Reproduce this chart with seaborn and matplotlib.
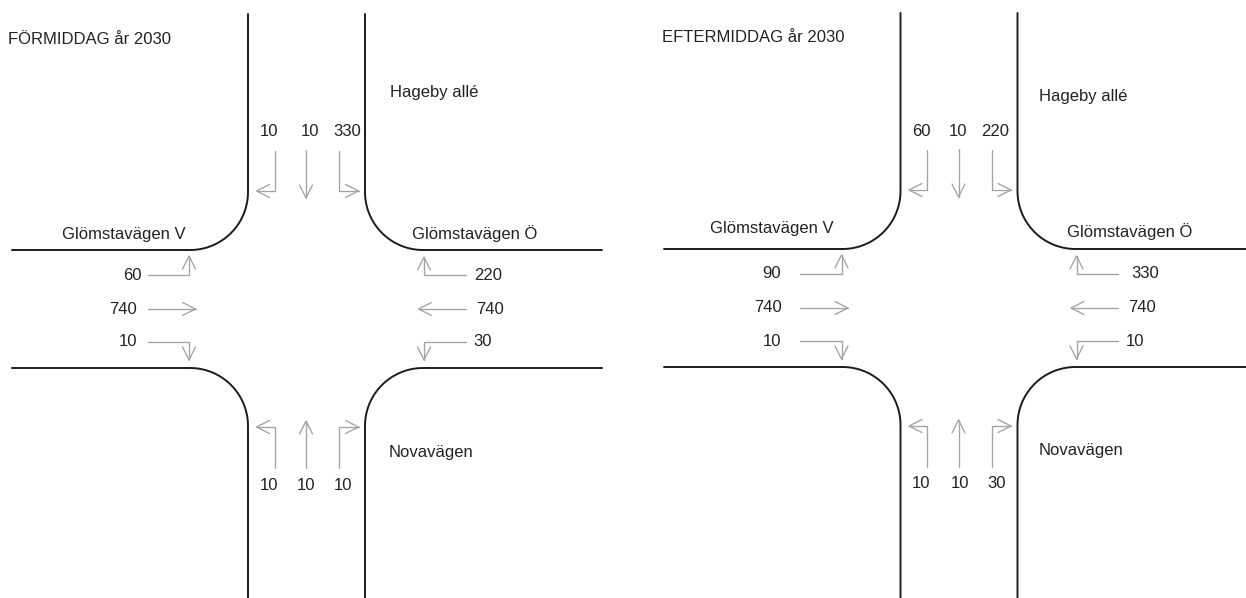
import numpy as np
import pandas as pd
import matplotlib
matplotlib.use("Agg")
import matplotlib.pyplot as plt
import seaborn as sns

# Trafikflöden, ordning: vänster, rakt, höger sett uppifrån/nerifrån i bilden
titles = ["FÖRMIDDAG år 2030", "EFTERMIDDAG år 2030"]
north_flows = [[10, 10, 330], [60, 10, 220]]
south_flows = [[10, 10, 10], [10, 10, 30]]
# ordning: övre, mellersta, nedre körfält
west_flows = [[60, 740, 10], [90, 740, 10]]
east_flows = [[220, 740, 30], [330, 740, 10]]

road_north = "Hageby allé"
road_south = "Novavägen"
road_west = "Glömstavägen V"
road_east = "Glömstavägen Ö"

# Layout i pixlar
centers = [(306.5, 309), (959, 308)]
kerb_dx, kerb_dy, radius = 58.5, 59, 58
road_left = [12, 664]
road_right = [602, 1253]
road_top = [14, 13]
lane_x = [-32, -0.5, 32.5]
lane_y = [-34, 0, 33]

north_label_x = [[269, 310, 347], [921, 958, 995]]
south_label_x = [[269, 306, 343], [921, 960, 997]]
north_label_y = [132, 131]
south_label_y = [486, 484]
west_label_x = [[132, 123, 128], [772, 768, 772]]
east_label_x = [[488, 490, 483], [1145, 1142, 1135]]
title_pos = [(8, 39), (662, 38)]
north_name_pos = [(390, 92), (1039, 96)]
south_name_pos = [(389, 452), (1039, 451)]
west_name_pos = [(62, 234), (710, 229)]
east_name_pos = [(412, 234), (1067, 232)]


def arc(cx, cy, start, stop):
    t = np.radians(np.linspace(start, stop, 40))
    return list(cx + radius * np.cos(t)), list(cy + radius * np.sin(t))


def kerb_strokes(i):
    cx, cy = centers[i]
    xl, xr = cx - kerb_dx, cx + kerb_dx
    yt, yb = cy - kerb_dy, cy + kerb_dy
    strokes = []
    # y-axeln är vänd, så vinklarna räknas medurs i bilden
    ax_, ay_ = arc(xl - radius, yt - radius, 0, 90)
    strokes.append(([xl] + ax_ + [road_left[i]], [road_top[i]] + ay_ + [yt]))
    ax_, ay_ = arc(xr + radius, yt - radius, 180, 90)
    strokes.append(([xr] + ax_ + [road_right[i]], [road_top[i]] + ay_ + [yt]))
    ax_, ay_ = arc(xl - radius, yb + radius, 0, -90)
    strokes.append(([xl] + ax_ + [road_left[i]], [598] + ay_ + [yb]))
    ax_, ay_ = arc(xr + radius, yb + radius, 180, 270)
    strokes.append(([xr] + ax_ + [road_right[i]], [598] + ay_ + [yb]))
    return strokes


def arrow_strokes(points, head=13, half=6.5):
    """Polylinje med öppen pilspets i sista punkten."""
    xs, ys = zip(*points)
    dx, dy = xs[-1] - xs[-2], ys[-1] - ys[-2]
    n = np.hypot(dx, dy)
    dx, dy = dx / n, dy / n
    bx, by = xs[-1] - head * dx, ys[-1] - head * dy
    wing = ([bx - half * dy, xs[-1], bx + half * dy],
            [by + half * dx, ys[-1], by - half * dx])
    return [(list(xs), list(ys)), wing]


def approach_arrows(i):
    cx, cy = centers[i]
    strokes = []
    # norrifrån
    strokes += arrow_strokes([(cx + lane_x[0], cy - 158), (cx + lane_x[0], cy - 118), (cx - 50, cy - 118)])
    strokes += arrow_strokes([(cx + lane_x[1], cy - 159), (cx + lane_x[1], cy - 111)])
    strokes += arrow_strokes([(cx + lane_x[2], cy - 158), (cx + lane_x[2], cy - 118), (cx + 52, cy - 118)])
    # söderifrån
    strokes += arrow_strokes([(cx + lane_x[0], cy + 159), (cx + lane_x[0], cy + 118), (cx - 50, cy + 118)])
    strokes += arrow_strokes([(cx + lane_x[1], cy + 159), (cx + lane_x[1], cy + 112)])
    strokes += arrow_strokes([(cx + lane_x[2], cy + 159), (cx + lane_x[2], cy + 118), (cx + 52, cy + 118)])
    # västerifrån
    strokes += arrow_strokes([(cx - 159, cy + lane_y[0]), (cx - 117.5, cy + lane_y[0]), (cx - 117.5, cy - 53)])
    strokes += arrow_strokes([(cx - 159, cy + lane_y[1]), (cx - 111, cy + lane_y[1])])
    strokes += arrow_strokes([(cx - 159, cy + lane_y[2]), (cx - 117.5, cy + lane_y[2]), (cx - 117.5, cy + 51)])
    # österifrån
    strokes += arrow_strokes([(cx + 159, cy + lane_y[0]), (cx + 117.5, cy + lane_y[0]), (cx + 117.5, cy - 52)])
    strokes += arrow_strokes([(cx + 159, cy + lane_y[1]), (cx + 112, cy + lane_y[1])])
    strokes += arrow_strokes([(cx + 159, cy + lane_y[2]), (cx + 117.5, cy + lane_y[2]), (cx + 117.5, cy + 51)])
    return strokes


def to_frame(strokes):
    rows = []
    for k, (xs, ys) in enumerate(strokes):
        rows.append(pd.DataFrame({"x": xs, "y": ys, "stroke": k}))
    return pd.concat(rows, ignore_index=True)


sns.set_theme(style="white")
plt.rcParams["font.family"] = ["Liberation Sans", "DejaVu Sans"]

fig = plt.figure(figsize=(12.46, 5.98), dpi=100)
ax = fig.add_axes([0, 0, 1, 1])

for i in range(2):
    sns.lineplot(data=to_frame(approach_arrows(i)), x="x", y="y", units="stroke", estimator=None,
                 sort=False, color="#a3a3a3", linewidth=0.95, legend=False, ax=ax)
    sns.lineplot(data=to_frame(kerb_strokes(i)), x="x", y="y", units="stroke", estimator=None,
                 sort=False, color="#1c1c1c", linewidth=1.4, legend=False, ax=ax)

    cx, cy = centers[i]
    style = dict(fontsize=12, color="#222222", va="center")
    ax.text(*title_pos[i], titles[i], ha="left", **style)
    ax.text(*north_name_pos[i], road_north, ha="left", **style)
    ax.text(*south_name_pos[i], road_south, ha="left", **style)
    ax.text(*west_name_pos[i], road_west, ha="left", **style)
    ax.text(*east_name_pos[i], road_east, ha="left", **style)
    for k in range(3):
        ax.text(north_label_x[i][k], north_label_y[i], str(north_flows[i][k]), ha="center", **style)
        ax.text(south_label_x[i][k], south_label_y[i], str(south_flows[i][k]), ha="center", **style)
        ax.text(west_label_x[i][k], cy + lane_y[k], str(west_flows[i][k]), ha="center", **style)
        ax.text(east_label_x[i][k], cy + lane_y[k], str(east_flows[i][k]), ha="center", **style)

ax.set_xlim(0, 1246)
ax.set_ylim(598, 0)
ax.axis("off")
fig.savefig("out.png", dpi=100, facecolor="white")
